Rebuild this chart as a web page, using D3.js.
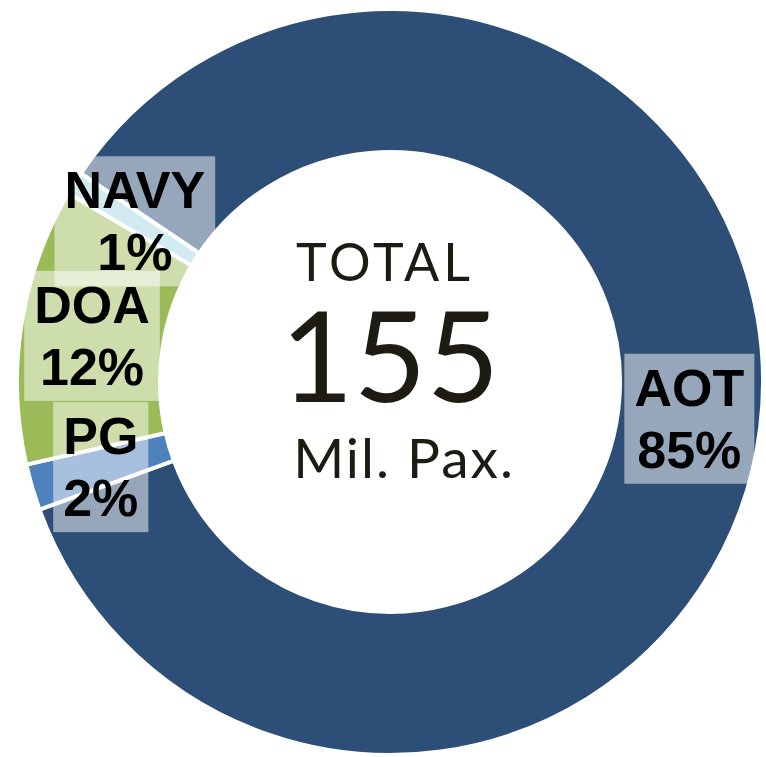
<!DOCTYPE html>
<html>
<head>
<meta charset="utf-8">
<script src="https://cdn.jsdelivr.net/npm/d3@7"></script>
<style>
  html, body { margin: 0; padding: 0; background: #fff; }
  svg { display: block; }
</style>
</head>
<body>
<div id="chart"></div>
<script>
// data
var operators = ["AOT", "PG", "DOA", "NAVY"];
var shares = [85, 2, 12, 1];
var sliceColors = ["#2d4f77", "#4f81bd", "#9bbb59", "#a5d6e2"];
var totalLines = ["TOTAL", "155", "Mil. Pax."];

var width = 766, height = 757;
var cx = 390, cy = 382;
var outerR = 373, innerR = 230;

var svg = d3.select("#chart")
  .append("svg")
  .attr("width", width)
  .attr("height", height);

var g = svg.append("g")
  .attr("transform", "translate(" + cx + "," + cy + ")");

var data = operators.map(function (d, i) {
  return { name: d, value: shares[i], color: sliceColors[i] };
});

var startA = -56 * Math.PI / 180;
var pie = d3.pie()
  .sort(null)
  .value(function (d) { return d.value; })
  .startAngle(startA)
  .endAngle(startA + 2 * Math.PI);

var arc = d3.arc()
  .innerRadius(innerR)
  .outerRadius(outerR);

var labelArc = d3.arc()
  .innerRadius((innerR + outerR) / 2)
  .outerRadius((innerR + outerR) / 2);

var arcs = pie(data);

g.selectAll("path.slice")
  .data(arcs)
  .enter().append("path")
  .attr("class", "slice")
  .attr("d", arc)
  .attr("fill", function (d) { return d.data.color; })
  .attr("stroke", "#fff")
  .attr("stroke-width", 4)
  .attr("stroke-linejoin", "miter");

// data labels
var fs = 52, lh = 62;
var labels = g.selectAll("g.lbl")
  .data(arcs)
  .enter().append("g")
  .attr("class", "lbl")
  .attr("transform", function (d) {
    var c = labelArc.centroid(d);
    return "translate(" + c[0] + "," + c[1] + ")";
  });

var boxLayer = labels.append("rect");
var texts = labels.append("text")
  .attr("text-anchor", "middle")
  .attr("font-family", "'Liberation Sans', Arial, sans-serif")
  .attr("font-weight", "bold")
  .attr("font-size", fs)
  .attr("fill", "#000");

texts.append("tspan")
  .attr("x", 0)
  .attr("y", -lh / 2 + 18)
  .text(function (d) { return d.data.name; });
texts.append("tspan")
  .attr("x", 0)
  .attr("y", lh / 2 + 18)
  .text(function (d) { return d.data.value + "%"; });

texts.each(function () {
  var bb = this.getBBox();
  d3.select(this.parentNode).select("rect")
    .attr("x", bb.x - 10)
    .attr("y", -65)
    .attr("width", bb.width + 20)
    .attr("height", 130)
    .attr("fill", "#fff")
    .attr("fill-opacity", 0.5);
});

// bring texts above every box
labels.each(function () {
  var t = d3.select(this).select("text").node();
  g.node().appendChild(t);
  t.setAttribute("transform", this.getAttribute("transform"));
});

// center text
var center = g.append("g")
  .attr("font-family", "Lato, 'Open Sans', sans-serif")
  .attr("fill", "#1e1b12")
  .attr("text-anchor", "middle");

center.append("text")
  .attr("x", -5)
  .attr("y", -101)
  .attr("font-size", 52)
  .attr("letter-spacing", 4)
  .text(totalLines[0]);
center.append("text")
  .attr("x", 0)
  .attr("y", 20)
  .attr("font-size", 126)
  .text(totalLines[1]);
center.append("text")
  .attr("x", 14)
  .attr("y", 96)
  .attr("font-size", 55)
  .attr("letter-spacing", 2)
  .text(totalLines[2]);
</script>
</body>
</html>
